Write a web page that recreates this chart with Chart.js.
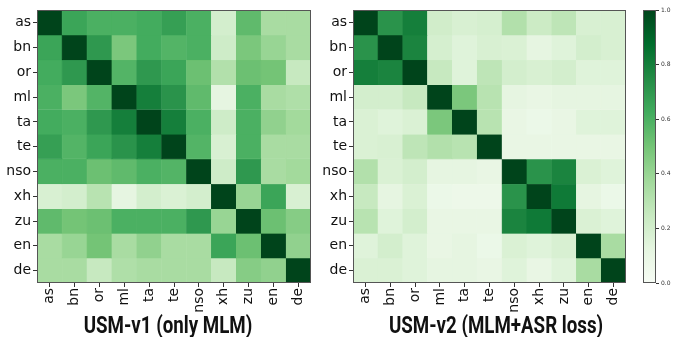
<!DOCTYPE html>
<html>
<head>
<meta charset="utf-8">
<script src="https://cdn.jsdelivr.net/npm/chart.js@4"></script>
<style>
  body { margin: 0; background: #fff; }
  #wrap { position: relative; width: 686px; height: 337px; overflow: hidden; }
  canvas { position: absolute; top: 0; }
  .title {
    position: absolute; top: 311px; width: 300px; text-align: center;
    font-family: Roboto, sans-serif; font-weight: bold; font-size: 24px; color: #111;
    transform: scaleX(0.78);
  }
</style>
</head>
<body>
<div id="wrap">
  <div style="position:absolute;left:0;top:0;width:320px;height:320px"><canvas id="left"></canvas></div>
  <div style="position:absolute;left:320px;top:0;width:316px;height:320px"><canvas id="right"></canvas></div>
  <div style="position:absolute;left:636px;top:0;width:50px;height:310px"><canvas id="cbar"></canvas></div>
  <div class="title" style="left:18px">USM-v1 (only MLM)</div>
  <div class="title" style="left:346px">USM-v2 (MLM+ASR loss)</div>
</div>
<script>
const langs = ['as', 'bn', 'or', 'ml', 'ta', 'te', 'nso', 'xh', 'zu', 'en', 'de'];

// similarity, USM-v1 (rows/cols follow langs)
const v1 = [
  [1.00, 0.65, 0.60, 0.60, 0.62, 0.67, 0.60, 0.20, 0.55, 0.35, 0.35],
  [0.65, 1.00, 0.70, 0.48, 0.62, 0.58, 0.60, 0.22, 0.48, 0.40, 0.35],
  [0.62, 0.70, 1.00, 0.58, 0.70, 0.65, 0.52, 0.32, 0.52, 0.50, 0.25],
  [0.60, 0.48, 0.58, 1.00, 0.80, 0.72, 0.55, 0.12, 0.60, 0.35, 0.33],
  [0.62, 0.60, 0.70, 0.80, 1.00, 0.80, 0.60, 0.22, 0.60, 0.42, 0.37],
  [0.67, 0.58, 0.65, 0.72, 0.80, 1.00, 0.58, 0.18, 0.60, 0.35, 0.35],
  [0.60, 0.60, 0.52, 0.55, 0.60, 0.58, 1.00, 0.22, 0.70, 0.35, 0.37],
  [0.18, 0.20, 0.30, 0.12, 0.20, 0.17, 0.20, 1.00, 0.40, 0.65, 0.18],
  [0.55, 0.50, 0.52, 0.60, 0.60, 0.60, 0.70, 0.40, 1.00, 0.52, 0.45],
  [0.35, 0.40, 0.50, 0.35, 0.42, 0.35, 0.35, 0.65, 0.52, 1.00, 0.42],
  [0.35, 0.35, 0.25, 0.33, 0.35, 0.35, 0.35, 0.25, 0.45, 0.42, 1.00]
];

// similarity, USM-v2
const v2 = [
  [1.00, 0.72, 0.80, 0.21, 0.18, 0.19, 0.32, 0.23, 0.28, 0.18, 0.18],
  [0.72, 1.00, 0.78, 0.19, 0.15, 0.18, 0.17, 0.12, 0.15, 0.20, 0.18],
  [0.80, 0.78, 1.00, 0.25, 0.15, 0.28, 0.20, 0.18, 0.20, 0.15, 0.15],
  [0.20, 0.20, 0.25, 1.00, 0.48, 0.30, 0.12, 0.10, 0.12, 0.12, 0.12],
  [0.17, 0.15, 0.17, 0.48, 1.00, 0.30, 0.10, 0.08, 0.10, 0.15, 0.15],
  [0.17, 0.18, 0.28, 0.32, 0.30, 1.00, 0.10, 0.10, 0.10, 0.10, 0.10],
  [0.32, 0.17, 0.20, 0.12, 0.12, 0.10, 1.00, 0.72, 0.78, 0.17, 0.15],
  [0.25, 0.12, 0.17, 0.08, 0.07, 0.07, 0.72, 1.00, 0.82, 0.12, 0.08],
  [0.30, 0.15, 0.20, 0.10, 0.10, 0.10, 0.78, 0.82, 1.00, 0.17, 0.15],
  [0.15, 0.20, 0.15, 0.10, 0.12, 0.08, 0.17, 0.15, 0.18, 1.00, 0.35],
  [0.17, 0.17, 0.15, 0.12, 0.12, 0.10, 0.15, 0.10, 0.15, 0.35, 1.00]
];

const cbarTicks = [0, 0.2, 0.4, 0.6, 0.8, 1.0];

// matplotlib "Greens" anchor colours
const greens = ['#f7fcf5', '#e5f5e0', '#c7e9c0', '#a1d99b', '#74c476', '#41ab5d', '#238b45', '#006d2c', '#00441b'];

function hexRgb(h) {
  return [1, 3, 5].map(i => parseInt(h.substr(i, 2), 16));
}

function greenAt(v) {
  v = Math.max(0, Math.min(1, v));
  const p = v * (greens.length - 1);
  const i = Math.min(Math.floor(p), greens.length - 2);
  const t = p - i;
  const a = hexRgb(greens[i]), b = hexRgb(greens[i + 1]);
  const c = a.map((x, k) => Math.round(x + (b[k] - x) * t));
  return `rgb(${c[0]},${c[1]},${c[2]})`;
}

// thin frame around the plot area like matplotlib spines
const frame = {
  id: 'frame',
  afterDraw(chart) {
    const a = chart.chartArea, ctx = chart.ctx;
    ctx.save();
    ctx.strokeStyle = '#555';
    ctx.lineWidth = 1;
    ctx.strokeRect(Math.round(a.left) + 0.5, Math.round(a.top) + 0.5,
      Math.round(a.right - a.left) - 1, Math.round(a.bottom - a.top) - 1);
    ctx.restore();
  }
};

function heatmap(id, M, yWidth, padRight) {
  const datasets = M.map((row, r) => ({
    data: row.map(() => [r - 0.5, r + 0.5]),
    backgroundColor: row.map(v => greenAt(v)),
    borderColor: row.map(v => greenAt(v)),
    borderWidth: 0.6,
    borderSkipped: false,
    grouped: false,
    barPercentage: 1,
    categoryPercentage: 1
  }));

  new Chart(document.getElementById(id), {
    type: 'bar',
    data: { labels: langs, datasets: datasets },
    options: {
      responsive: true,
      maintainAspectRatio: false,
      animation: false,
      layout: { padding: { top: 9, right: padRight, left: 0, bottom: 0 } },
      plugins: { legend: { display: false }, tooltip: { enabled: false } },
      scales: {
        x: {
          type: 'category',
          afterFit: s => { s.height = 37; },
          grid: { display: true, drawOnChartArea: false, offset: false, tickLength: 4, color: '#333' },
          border: { display: false },
          ticks: { maxRotation: 90, minRotation: 90, padding: 1, color: '#111', autoSkip: false,
                   font: { family: 'DejaVu Sans', size: 14 } }
        },
        y: {
          type: 'linear',
          min: -0.5, max: 10.5,
          reverse: true,
          afterFit: s => { s.width = yWidth; },
          afterBuildTicks: s => { s.ticks = langs.map((l, i) => ({ value: i })); },
          grid: { display: true, drawOnChartArea: false, tickLength: 4, color: '#333' },
          border: { display: false },
          ticks: { callback: v => langs[v], padding: 2, color: '#111',
                   font: { family: 'DejaVu Sans', size: 14 } }
        }
      }
    },
    plugins: [frame]
  });
}

heatmap('left', v1, 37, 9);
heatmap('right', v2, 33, 10);

// colour bar
new Chart(document.getElementById('cbar'), {
  type: 'bar',
  data: {
    labels: [''],
    datasets: [{
      data: [[0, 1]],
      borderWidth: 0,
      barPercentage: 1,
      categoryPercentage: 1,
      backgroundColor: ctx => {
        const a = ctx.chart.chartArea;
        if (!a) return greens[4];
        const g = ctx.chart.ctx.createLinearGradient(0, a.bottom, 0, a.top);
        greens.forEach((c, i) => g.addColorStop(i / (greens.length - 1), c));
        return g;
      }
    }]
  },
  options: {
    responsive: true,
    maintainAspectRatio: false,
    animation: false,
    layout: { padding: { top: 10, left: 7, right: 0, bottom: 27 } },
    plugins: { legend: { display: false }, tooltip: { enabled: false } },
    scales: {
      x: { display: false },
      y: {
        position: 'right',
        min: 0, max: 1,
        afterFit: s => { s.width = 30; },
        afterBuildTicks: s => { s.ticks = cbarTicks.map(v => ({ value: v })); },
        grid: { display: true, drawOnChartArea: false, tickLength: 3, color: '#333' },
        border: { display: false },
        ticks: { callback: v => v.toFixed(1), padding: 2, color: '#333',
                 font: { family: 'DejaVu Sans', size: 6 } }
      }
    }
  },
  plugins: [frame]
});
</script>
</body>
</html>
